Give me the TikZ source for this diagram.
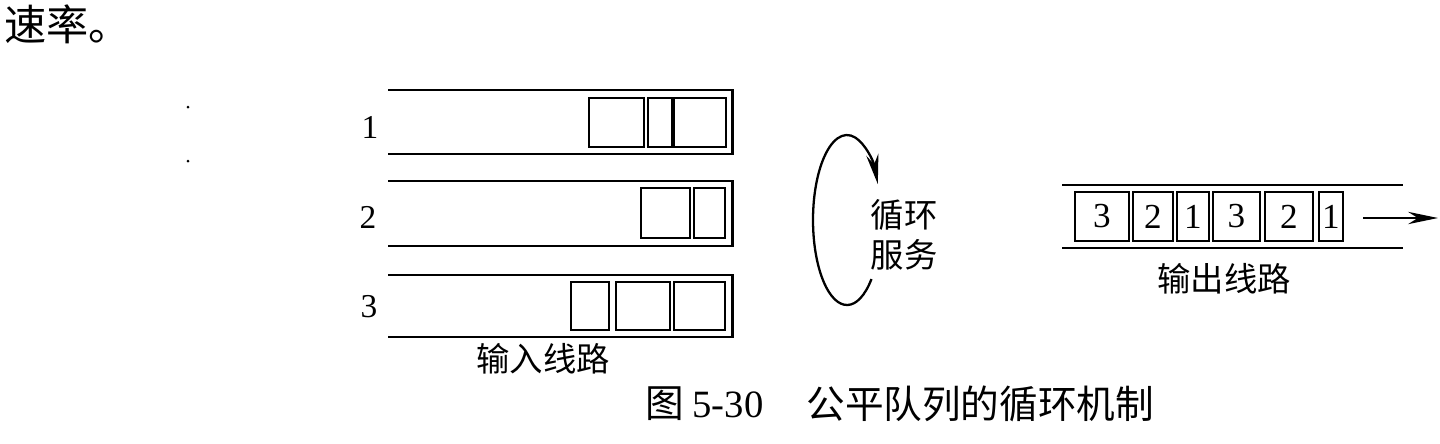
\documentclass[tikz,border=0pt]{standalone}
\usepackage{fontspec}
\setmainfont{Liberation Serif}
\newfontfamily\cjk{Noto Sans CJK SC}
\usetikzlibrary{arrows.meta}

\begin{document}
\begin{tikzpicture}[x=0.02cm, y=-0.02cm,
  qline/.style={line width=1.7pt},
  box/.style={line width=1.4pt},
  pkt/.style={draw, line width=1.4pt, inner sep=0pt, minimum height=0.98cm, font=\fontsize{20}{20}\selectfont},
  num/.style={font=\fontsize{19}{19}\selectfont},
  lbl/.style={font=\cjk\fontsize{19}{23}\selectfont, inner sep=0pt},
  arr/.style={-{Stealth[length=17pt, width=7pt]}}]

\useasboundingbox (0,0) rectangle (1440,443);

% text above the figure
\node[anchor=west, inner sep=0pt, font=\cjk\fontsize{24}{24}\selectfont] (rate) at (4,24) {速率。};
\fill (188,107) circle[radius=1.5];
\fill (188,161) circle[radius=1.5];

% input lines
\draw[qline] (388,90) -- (732,90) -- (732,154) -- (388,154);
\draw[qline] (388,181) -- (732,181) -- (732,246) -- (388,246);
\draw[qline] (388,275) -- (732,275) -- (732,337) -- (388,337);
\node[num] (n1) at (370,127) {1};
\node[num] (n2) at (368,217) {2};
\node[num] (n3) at (369,307) {3};

% waiting packets
\draw[box] (589,98) rectangle (644,147) (648,98) rectangle (672,147) (674,98) rectangle (726,147);
\draw[box] (641,188) rectangle (690,238) (694,188) rectangle (725,238);
\draw[box] (571,282) rectangle (609,330) (616,282) rectangle (670,330) (674,282) rectangle (725,330);
\node[lbl] (inl) at (543,359) {输入线路};

% round robin
\coordinate (rr) at (847,220);
\draw[arr, line width=1.3pt] ([shift={(44:34 and 85)}]rr) arc[start angle=44, end angle=335, x radius=34, y radius=85];
\node[lbl, align=center] (rrl) at (904,235) {循环\\服务};

% output line
\draw[qline] (1062,185) -- (1403,185);
\draw[qline] (1062,248) -- (1403,248);
\node[pkt, minimum width=1.08cm] (o1) at (1102,216.5) {3};
\node[pkt, minimum width=0.8cm] (o2) at (1153,216.5) {2};
\node[pkt, minimum width=0.64cm] (o3) at (1193,216.5) {1};
\node[pkt, minimum width=0.94cm] (o4) at (1236.5,216.5) {3};
\node[pkt, minimum width=0.96cm] (o5) at (1289,216.5) {2};
\node[pkt, minimum width=0.48cm] (o6) at (1331,216.5) {1};
\coordinate (oa) at (1363,218);
\coordinate (ob) at (1438,218);
\draw[arr, line width=1.5pt] (oa) -- (ob);
\node[lbl] (outl) at (1224,279) {输出线路};

% caption
\node[anchor=west, inner sep=0pt, font=\cjk\fontsize{22}{22}\selectfont] (fig) at (645,404) {图 {\rmfamily 5-30}};
\node[anchor=west, inner sep=0pt, font=\cjk\fontsize{22}{22}\selectfont] (cap) at (806,404) {公平队列的循环机制};

\end{tikzpicture}
\end{document}
